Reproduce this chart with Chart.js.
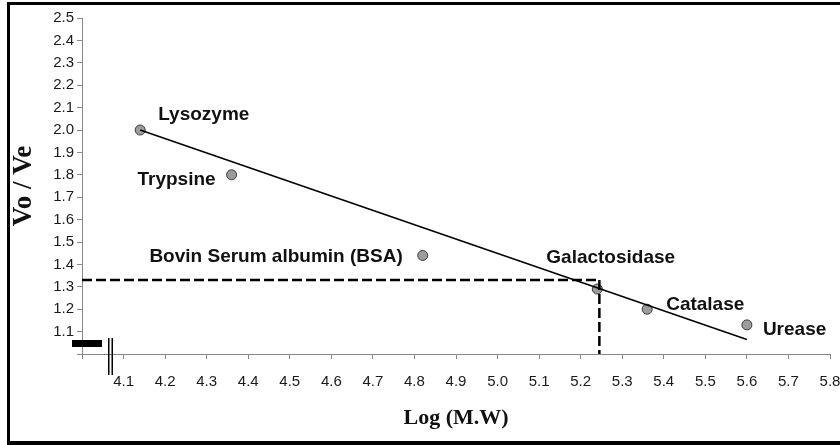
<!DOCTYPE html>
<html>
<head>
<meta charset="utf-8">
<script src="https://cdn.jsdelivr.net/npm/chart.js@4.4.1/dist/chart.umd.min.js"></script>
<style>
  html, body { margin: 0; padding: 0; background: #ffffff; }
  #wrap { width: 840px; height: 445px; position: relative; }
</style>
</head>
<body>
<div id="wrap"><canvas id="c" width="840" height="445"></canvas></div>
<script>
// ---- data ----
const proteins = ["Lysozyme", "Trypsine", "Bovin Serum albumin (BSA)", "Galactosidase", "Catalase", "Urease"];
const logMW = [4.14, 4.36, 4.82, 5.24, 5.36, 5.60];
const voVe = [2.00, 1.80, 1.44, 1.29, 1.20, 1.13];
const trendX = [4.14, 5.60];
const trendY = [2.00, 1.065];
const unknownX = 5.245;
const unknownY = 1.33;
const xMin = 4.0, xMax = 5.8, xStep = 0.1;
const yMin = 1.0, yMax = 2.5, yStep = 0.1;

// label placement relative to each point (dx, dy in px, align)
const labelOffsets = [
  { dx: 18, dy: -10, align: "left" },
  { dx: -16, dy: 10, align: "right" },
  { dx: -20, dy: 7, align: "right" },
  { dx: -51, dy: -26, align: "left" },
  { dx: 19, dy: 1, align: "left" },
  { dx: 16, dy: 10, align: "left" }
];

const points = logMW.map((x, i) => ({ x: x, y: voVe[i] }));
const trend = trendX.map((x, i) => ({ x: x, y: trendY[i] }));
const hDash = [{ x: xMin, y: unknownY }, { x: unknownX, y: unknownY }];
const vDash = [{ x: unknownX, y: unknownY }, { x: unknownX, y: yMin }];

const labelPlugin = {
  id: "pointLabels",
  afterDatasetsDraw(chart) {
    const ctx = chart.ctx;
    const meta = chart.getDatasetMeta(3);
    ctx.save();
    ctx.font = "bold 19px 'Liberation Sans', Arial, sans-serif";
    ctx.fillStyle = "#111";
    ctx.textBaseline = "alphabetic";
    meta.data.forEach((el, i) => {
      const o = labelOffsets[i];
      ctx.textAlign = o.align;
      ctx.fillText(proteins[i], el.x + o.dx, el.y + o.dy);
    });
    ctx.restore();
  }
};

const decoPlugin = {
  id: "deco",
  afterDraw(chart) {
    const ctx = chart.ctx;
    const a = chart.chartArea;
    ctx.save();
    ctx.fillStyle = "#000";
    // broken-axis marks
    ctx.fillRect(a.left - 10, a.bottom - 14, 30, 7);
    ctx.fillRect(a.left + 26, a.bottom - 16, 1.5, 37);
    ctx.fillRect(a.left + 29.5, a.bottom - 16, 1.5, 37);
    // frame
    ctx.fillRect(7, 2, 833, 3);
    ctx.fillRect(7, 2, 3, 443);
    ctx.fillRect(7, 441, 833, 4);
    ctx.restore();
  }
};

const tickFmt = (min) => function (v) {
  if (Math.abs(v - min) < 1e-6) return "";
  return Number(v).toFixed(1);
};

new Chart(document.getElementById("c"), {
  type: "scatter",
  data: {
    datasets: [
      { type: "line", data: trend, borderColor: "#000", borderWidth: 1.5, pointRadius: 0, fill: false },
      { type: "line", data: hDash, borderColor: "#000", borderWidth: 2.5, borderDash: [10, 4], pointRadius: 0, fill: false },
      { type: "line", data: vDash, borderColor: "#000", borderWidth: 2.5, borderDash: [10, 4], pointRadius: 0, fill: false },
      { data: points, pointRadius: 5, pointBackgroundColor: "#9c9c9c", pointBorderColor: "#3a3a3a", pointBorderWidth: 1 }
    ]
  },
  options: {
    responsive: false,
    animation: false,
    layout: { padding: { left: 0, right: 10, top: 18, bottom: 0 } },
    plugins: { legend: { display: false }, tooltip: { enabled: false } },
    scales: {
      x: {
        type: "linear",
        min: xMin, max: xMax,
        afterFit(s) { s.height = 91; s.paddingLeft = 0; s.paddingRight = 0; },
        ticks: { stepSize: xStep, autoSkip: false, maxRotation: 0, padding: 14, color: "#1a1a1a",
          font: { family: "'Liberation Sans', Arial, sans-serif", size: 15 }, callback: tickFmt(xMin) },
        grid: { drawOnChartArea: false, tickLength: 5, color: "#888" },
        border: { color: "#888", width: 1 },
        title: { display: true, text: "Log (M.W)", color: "#111", padding: { top: 13, bottom: 13 },
          font: { family: "'Liberation Serif', 'Times New Roman', serif", size: 22, weight: "bold" } }
      },
      y: {
        type: "linear",
        min: yMin, max: yMax,
        afterFit(s) { s.width = 82; s.paddingTop = 0; s.paddingBottom = 0; },
        ticks: { stepSize: yStep, autoSkip: false, padding: 3, color: "#1a1a1a",
          font: { family: "'Liberation Sans', Arial, sans-serif", size: 15 }, callback: tickFmt(yMin) },
        grid: { drawOnChartArea: false, tickLength: 5, color: "#888" },
        border: { color: "#888", width: 1 },
        title: { display: true, text: "Vo / Ve", color: "#111", padding: { top: 8, bottom: 8 },
          font: { family: "'Liberation Serif', 'Times New Roman', serif", size: 27, weight: "bold" } }
      }
    }
  },
  plugins: [labelPlugin, decoPlugin]
});
</script>
</body>
</html>
